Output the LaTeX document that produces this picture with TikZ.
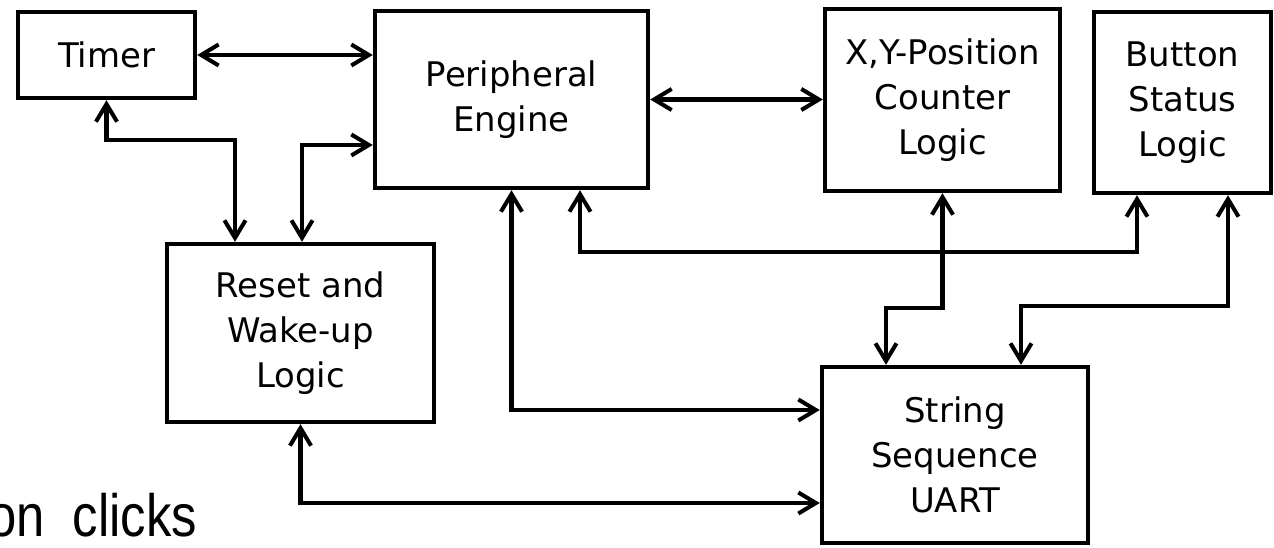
\documentclass[tikz,border=0pt]{standalone}
\usepackage{fontspec}
\setmainfont{DejaVu Sans}
\newfontfamily\clickfont[FakeStretch=0.85]{Liberation Sans}
\usetikzlibrary{arrows.meta,positioning}

\begin{document}
\begin{tikzpicture}[<->,>={Straight Barb[length=10pt,width=12pt]},
		x=0.2mm,y=-0.2mm,line width=2.3pt,
		main node/.style={rectangle,draw,line width=2.5pt,align=center,inner sep=0pt,
			font=\fontsize{19.3}{25.6}\selectfont},
		text node/.style={rectangle,inner sep=0pt}]
		
		\useasboundingbox (0,0) rectangle (1274,547);
		\clip (0,0) rectangle (1274,547);
		
		\node[main node,minimum width=35.4mm,minimum height=17.2mm] (timer) at (106.5,55) {Timer};
		\node[main node,minimum width=54.6mm,minimum height=35.4mm] (peri) at (511.5,99.5) {Peripheral\\Engine};
		\node[main node,minimum width=47mm,minimum height=36.4mm] (pos) at (942.5,100) {X,Y-Position\\Counter\\Logic};
		\node[main node,minimum width=35.4mm,minimum height=36.2mm] (btn) at (1182.5,102.5) {Button\\Status\\Logic};
		\node[main node,minimum width=53.4mm,minimum height=35.6mm] (reset) at (300.5,333) {Reset and\\Wake-up\\Logic};
		\node[main node,minimum width=53.2mm,minimum height=35.2mm] (uart) at (955,455) {String\\Sequence\\UART};
		
		\node[text node,anchor=base east] (clicks) at (199,536) {\clickfont\fontsize{34}{40}\selectfont on\hspace{16pt}clicks};
		
		\path
			(timer.east) edge (timer.east -| peri.west)
			(peri.east) edge (peri.east -| pos.west);
		
		\draw (timer.south) -- ++(0,40) -| ([xshift=-13.1mm]reset.north);
		\draw ([yshift=-9.1mm]peri.west) -| ([xshift=0.3mm]reset.north);
		\draw (peri.south) |- ([yshift=9mm]uart.west);
		\draw ([xshift=13.7mm]peri.south) -- ++(0,62) -| ([xshift=-9.1mm]btn.south);
		\draw (pos.south) -- ++(0,115) -| ([xshift=-13.8mm]uart.north);
		\draw ([xshift=9.1mm]btn.south) -- ++(0,111) -| ([xshift=13.2mm]uart.north);
		\draw (reset.south) |- ([yshift=-9.6mm]uart.west);
		
\end{tikzpicture}
\end{document}
